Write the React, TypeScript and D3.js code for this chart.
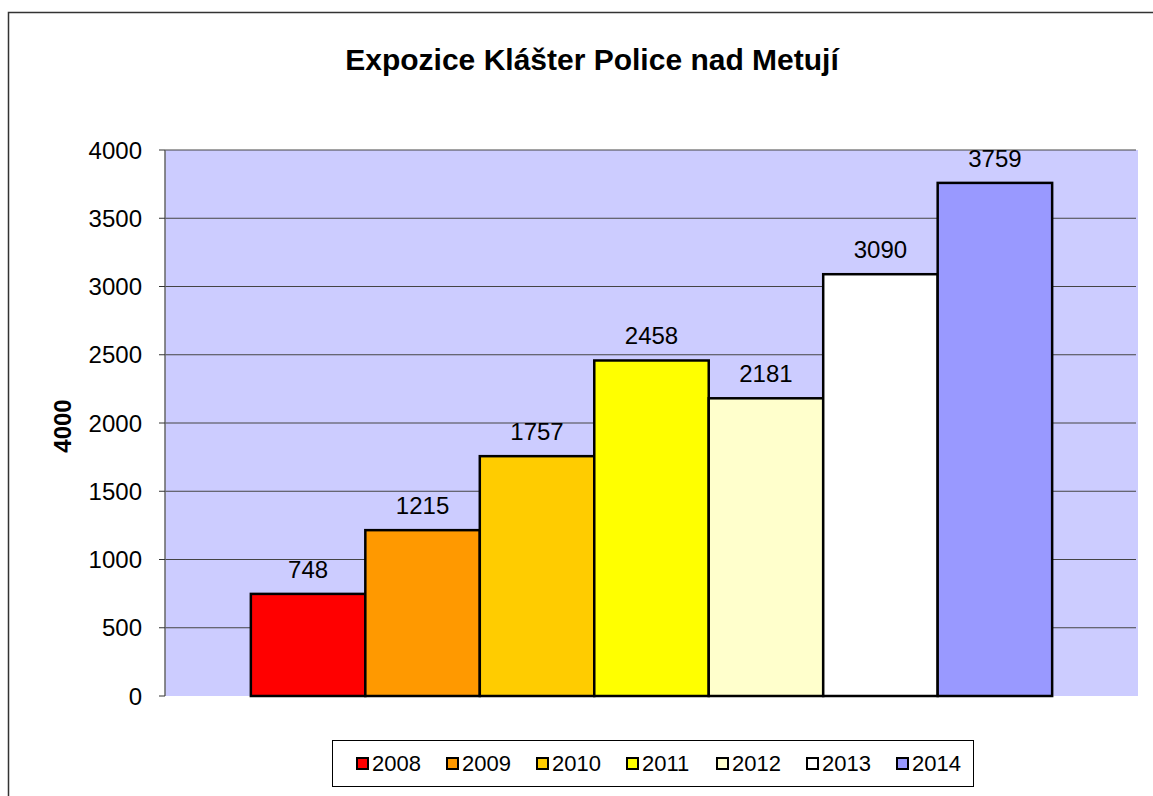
import React from "react";
import * as d3 from "d3";

const years = ["2008", "2009", "2010", "2011", "2012", "2013", "2014"];
const visitors = [748, 1215, 1757, 2458, 2181, 3090, 3759];
const barColors = ["#FF0000", "#FF9900", "#FFCC00", "#FFFF00", "#FFFFCC", "#FFFFFF", "#9999FF"];
const yTicks = [0, 500, 1000, 1500, 2000, 2500, 3000, 3500, 4000];

const width = 1153;
const height = 796;
const plot = { left: 165, top: 150, right: 1138, bottom: 696 };
const font = "Arial, 'Liberation Sans', sans-serif";

export default function App() {
  const x = d3
    .scaleBand<string>()
    .domain(years)
    .range([plot.left, plot.right])
    .paddingInner(0)
    .paddingOuter(0.75);

  const y = d3.scaleLinear().domain([0, 4000]).range([plot.bottom, plot.top]);

  const legendLeft = 356;
  const legendStep = 90;

  return (
    <svg
      width={width}
      height={height}
      style={{ position: "absolute", left: 0, top: 0, display: "block", background: "#fff" }}
      fontFamily={font}
    >
      {/* chart frame */}
      <rect x={8.5} y={12.5} width={width} height={height} fill="#fff" stroke="#333" strokeWidth={1.5} />

      <text x={592} y={70} textAnchor="middle" fontSize={30} fontWeight="bold" fill="#000">
        Expozice Klášter Police nad Metují
      </text>

      {/* plot area */}
      <rect x={plot.left} y={plot.top} width={plot.right - plot.left} height={plot.bottom - plot.top} fill="#CCCCFF" />

      {yTicks.filter((t) => t > 0).map((t) => (
        <line key={"g" + t} x1={plot.left} x2={plot.right - 2} y1={y(t)} y2={y(t)} stroke="#444" strokeWidth={1} />
      ))}

      {/* y axis */}
      <line x1={plot.left} x2={plot.left} y1={plot.top} y2={plot.bottom} stroke="#666" strokeWidth={1.5} />
      {yTicks.map((t) => (
        <g key={"t" + t}>
          <line x1={plot.left - 6} x2={plot.left} y1={y(t)} y2={y(t)} stroke="#333" strokeWidth={1} />
          <text x={142} y={y(t)} dy="0.36em" textAnchor="end" fontSize={24} fill="#000">
            {t}
          </text>
        </g>
      ))}

      <text
        transform={`translate(62,${(plot.top + plot.bottom) / 2 + 3}) rotate(-90)`}
        dy="0.36em"
        textAnchor="middle"
        fontSize={24}
        fontWeight="bold"
        fill="#000"
      >
        4000
      </text>

      {/* bars */}
      {years.map((yr, i) => (
        <g key={yr}>
          <rect
            x={x(yr)}
            y={y(visitors[i])}
            width={x.bandwidth()}
            height={y(0) - y(visitors[i])}
            fill={barColors[i]}
            stroke="#000"
            strokeWidth={2.5}
          />
          <text
            x={(x(yr) as number) + x.bandwidth() / 2}
            y={y(visitors[i]) - 16}
            textAnchor="middle"
            fontSize={24}
            fill="#000"
          >
            {visitors[i]}
          </text>
        </g>
      ))}

      {/* legend */}
      <rect x={332.5} y={740.5} width={641} height={46} fill="#fff" stroke="#000" strokeWidth={1} />
      {years.map((yr, i) => (
        <g key={"l" + yr} transform={`translate(${legendLeft + i * legendStep},0)`}>
          <rect x={1} y={758} width={11} height={11} fill={barColors[i]} stroke="#000" strokeWidth={2} />
          <text x={16} y={771} fontSize={22} fill="#000">
            {yr}
          </text>
        </g>
      ))}
    </svg>
  );
}
